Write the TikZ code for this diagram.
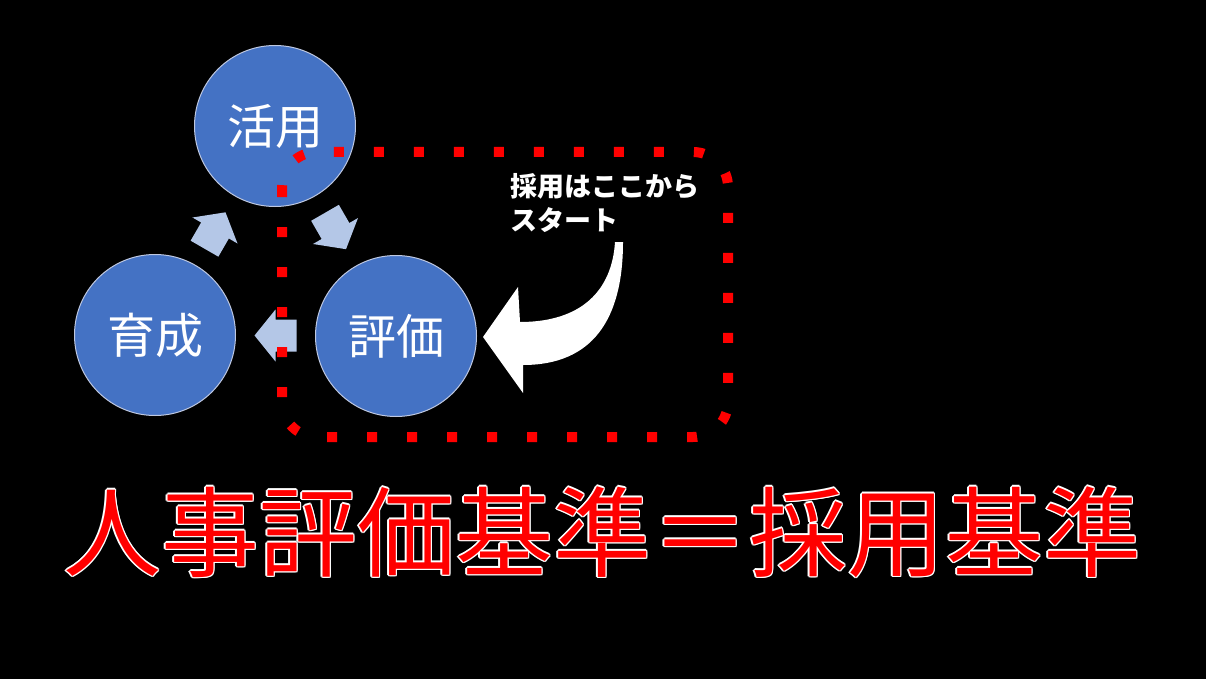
\documentclass[tikz,border=0pt]{standalone}
\usepackage{fontspec}
\newfontfamily\jp{Noto Sans CJK JP}
\usetikzlibrary{calc}
\definecolor{circblue}{RGB}{68,114,196}
\definecolor{arrowblue}{RGB}{180,199,231}
\definecolor{ringc}{RGB}{190,200,225}
\begin{document}
\begin{tikzpicture}[x=1pt,y=-1pt,
  circ/.style={circle, fill=circblue, draw=ringc, line width=1pt, minimum size=161pt, inner sep=0pt, text=white, font=\jp\fontsize{48}{48}\selectfont},
  blockarrow/.pic={\fill[arrowblue] (-21,-16) -- (0,-16) -- (0,-26) -- (21,0) -- (0,26) -- (0,16) -- (-21,16) -- cycle;},
  bigtxt/.style={inner sep=0pt, font=\jp\fontsize{98}{98}\selectfont},
  note/.style={inner sep=0pt, align=left, text=white, font=\jp\bfseries\fontsize{27}{34}\selectfont},
  dotbox/.style={draw=red, line width=10pt, dash pattern=on 10pt off 30pt, rounded corners=35pt}
]
% background
\fill[black] (0,0) rectangle (1206,679);

% circles
\node[circ] (ka) at (275,126) {活用};
\node[circ] (ik) at (155,335) {育成};
\node[circ] (hy) at (396,336) {評価};

% block arrows between circles
\pic[rotate=60]  at ($(ik)!0.5!(ka)$) {blockarrow};
\pic[rotate=-60] at ($(ka)!0.5!(hy)$) {blockarrow};
\pic[rotate=180] at ($(hy)!0.5!(ik)$) {blockarrow};

% red dotted rounded box
\coordinate (b1) at (282,152);
\coordinate (b2) at (728,437);
\draw[dotbox] (b1) rectangle (b2);

% note text
\node[note, anchor=west] (nt) at (510,203) {採用はここから\\スタート};

% curved white arrow
\fill[white] (623,242) .. controls (623,320) and (592,365) .. (523,365)
  -- (523,393) -- (483,337) -- (518,287) -- (520,322)
  .. controls (582,322) and (612,290) .. (615,242) -- cycle;

% bottom title with white outline
\coordinate (tt) at (602,532);
\foreach \dx/\dy in {-1.3/0,1.3/0,0/-1.3,0/1.3,-1/-1,1/1,-1/1,1/-1}
  \node[bigtxt, text=white] at ($(tt)+(\dx,\dy)$) {人事評価基準＝採用基準};
\node[bigtxt, text=red] (title) at (tt) {人事評価基準＝採用基準};
\end{tikzpicture}
\end{document}
